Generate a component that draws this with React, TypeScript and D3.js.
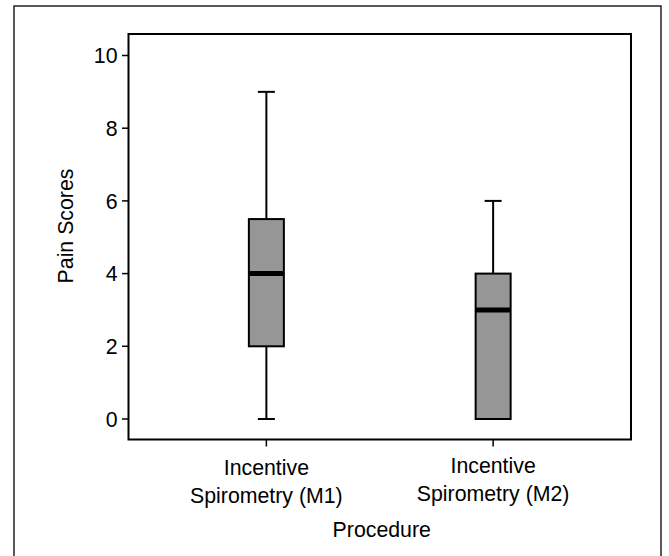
import React from "react";
import * as d3 from "d3";

// Procedure groups and their pain score summaries
const categories = ["M1", "M2"];
const categoryLines = [
  ["Incentive", "Spirometry (M1)"],
  ["Incentive", "Spirometry (M2)"],
];
const whiskerLow = [0, 0];
const quartile1 = [2, 0];
const medians = [4, 3];
const quartile3 = [5.5, 4];
const whiskerHigh = [9, 6];
const yTicks = [0, 2, 4, 6, 8, 10];

const W = 669;
const H = 556;
const frame = { left: 128.5, right: 631, top: 34, bottom: 439.5 };
const FONT = "'Liberation Sans', Arial, Helvetica, sans-serif";
const FS = 21.3;

export default function App() {
  const x = d3
    .scalePoint<string>()
    .domain(categories)
    .range([frame.left, frame.right])
    .padding(0.608);
  const y = d3.scaleLinear().domain([0, 10]).range([419, 55.5]);

  const boxW = 35;
  const capW = 17;

  return (
    <svg
      width={W}
      height={H}
      style={{ position: "absolute", left: 0, top: 0, background: "#fff" }}
      fontFamily={FONT}
    >
      {/* outer figure border */}
      <rect x={14} y={6} width={647} height={560} fill="none" stroke="#222" strokeWidth={1.5} />

      {/* plot frame */}
      <rect
        x={frame.left}
        y={frame.top}
        width={frame.right - frame.left}
        height={frame.bottom - frame.top}
        fill="none"
        stroke="#000"
        strokeWidth={2}
      />

      {/* y axis ticks and labels */}
      {yTicks.map((t) => (
        <g key={t}>
          <line x1={frame.left - 6.5} x2={frame.left} y1={y(t)} y2={y(t)} stroke="#000" strokeWidth={1.5} />
          <text
            x={frame.left - 11}
            y={y(t)}
            dy="0.36em"
            textAnchor="end"
            fontSize={FS}
            fill="#000"
          >
            {t}
          </text>
        </g>
      ))}

      {/* x axis ticks and labels */}
      {categories.map((c, i) => (
        <g key={c}>
          <line x1={x(c)} x2={x(c)} y1={frame.bottom} y2={frame.bottom + 7} stroke="#000" strokeWidth={1.5} />
          {categoryLines[i].map((ln, j) => (
            <text
              key={j}
              x={x(c)}
              y={(i === 0 ? 475 : 473) + j * 28}
              textAnchor="middle"
              fontSize={FS}
              fill="#000"
            >
              {ln}
            </text>
          ))}
        </g>
      ))}

      {/* boxes */}
      {categories.map((c, i) => {
        const cx = x(c) as number;
        return (
          <g key={c}>
            <line x1={cx} x2={cx} y1={y(whiskerHigh[i])} y2={y(quartile3[i])} stroke="#000" strokeWidth={2} />
            <line x1={cx} x2={cx} y1={y(quartile1[i])} y2={y(whiskerLow[i])} stroke="#000" strokeWidth={2} />
            <line
              x1={cx - capW / 2}
              x2={cx + capW / 2}
              y1={y(whiskerHigh[i])}
              y2={y(whiskerHigh[i])}
              stroke="#000"
              strokeWidth={2}
            />
            <line
              x1={cx - capW / 2}
              x2={cx + capW / 2}
              y1={y(whiskerLow[i])}
              y2={y(whiskerLow[i])}
              stroke="#000"
              strokeWidth={2}
            />
            <rect
              x={cx - boxW / 2}
              y={y(quartile3[i])}
              width={boxW}
              height={y(quartile1[i]) - y(quartile3[i])}
              fill="#969696"
              stroke="#000"
              strokeWidth={2}
            />
            <line
              x1={cx - boxW / 2}
              x2={cx + boxW / 2}
              y1={y(medians[i])}
              y2={y(medians[i])}
              stroke="#000"
              strokeWidth={5}
            />
          </g>
        );
      })}

      {/* axis titles */}
      <text
        transform={`translate(73, 226) rotate(-90)`}
        textAnchor="middle"
        fontSize={FS}
        fill="#000"
      >
        Pain Scores
      </text>
      <text x={(frame.left + frame.right) / 2 + 2} y={537} textAnchor="middle" fontSize={FS} fill="#000">
        Procedure
      </text>
    </svg>
  );
}
